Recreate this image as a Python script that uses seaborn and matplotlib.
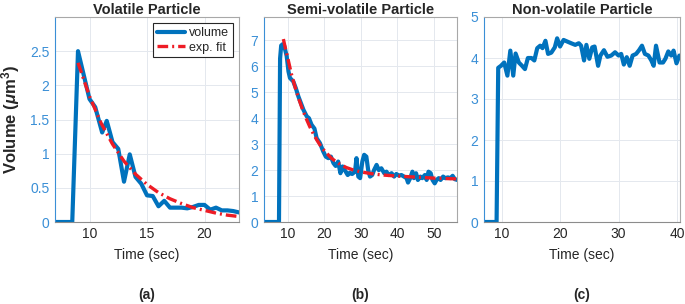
import matplotlib
matplotlib.use("Agg")
import pandas as pd
import matplotlib.pyplot as plt
import seaborn as sns

# Panel (a): volatile particle
vol_a_time = [7.0, 8.5, 9.0, 10.0, 10.5, 11.1, 11.5, 12.0, 12.5, 13.0, 13.5, 14.0, 14.5,
              15.0, 15.5, 16.0, 16.5, 17.0, 17.5, 18.0, 18.5, 19.0, 19.5, 20.0, 20.5,
              21.0, 21.5, 22.0, 22.5, 23.0]
vol_a = [0, 0, 2.5, 1.8, 1.68, 1.31, 1.48, 1.17, 1.07, 0.59, 0.99, 0.66, 0.56,
         0.39, 0.38, 0.23, 0.31, 0.21, 0.21, 0.21, 0.2, 0.22, 0.25, 0.25, 0.18,
         0.21, 0.17, 0.17, 0.16, 0.14]
fit_a_time = [9, 10, 11, 12, 13, 14, 15, 16, 17, 18, 19, 20, 21, 22, 23]
fit_a = [2.33, 1.84, 1.45, 1.14, 0.89, 0.70, 0.55, 0.43, 0.34, 0.27, 0.21, 0.17, 0.13, 0.10, 0.08]

# Panel (b): semi-volatile particle
vol_b_time = [3.5, 7.6, 7.9, 8.2, 8.6, 9.0, 9.7, 10.2, 10.6, 11.5, 12.2, 12.9, 13.6, 14.3,
              15.2, 15.8, 16.5, 17.3, 17.9, 18.8, 19.7, 20.4, 21.1, 21.8, 22.5, 23.1,
              23.8, 24.4, 25.0, 25.6, 26.4, 27.0, 27.6, 28.4, 28.8, 29.3, 29.8, 30.4,
              30.9, 31.5, 32.0, 32.5, 33.1, 33.6, 34.3, 34.9, 35.6, 36.4, 37.0, 37.6,
              38.4, 39.1, 39.7, 40.4, 41.1, 41.8, 42.5, 42.9, 43.5, 44.1, 44.5, 45.1,
              45.6, 46.3, 46.8, 47.5, 48.0, 48.5, 49.1, 49.6, 50.2, 50.7, 51.3, 51.8,
              52.5, 53.1, 53.8, 54.5, 55.1, 55.7, 56.4]
vol_b = [0, 0, 6.3, 6.8, 6.85, 6.8, 6.4, 5.8, 5.55, 5.42, 5.16, 4.84, 4.58, 4.32,
         4.07, 4.0, 3.75, 3.6, 3.23, 3.04, 2.72, 2.52, 2.46, 2.52, 2.27, 2.16,
         2.33, 1.88, 2.14, 2.0, 1.81, 1.9, 1.85, 1.94, 2.46, 1.75, 1.69, 2.33,
         2.59, 2.52, 2.0, 1.75, 1.81, 2.0, 2.2, 2.0, 2.07, 1.88, 1.94, 1.81,
         1.88, 1.75, 1.85, 1.79, 1.81, 1.75, 1.69, 1.52, 1.69, 1.94, 1.69, 1.88,
         1.62, 1.75, 1.69, 1.81, 1.62, 1.94, 1.88, 1.62, 1.49, 1.62, 1.69, 1.62,
         1.75, 1.69, 1.72, 1.69, 1.78, 1.65, 1.62]
fit_b_time = [8.8, 9.5, 10, 11, 12, 13, 14, 15, 16, 17, 18, 19, 20, 22, 24, 26, 28,
              30, 33, 36, 40, 45, 50, 56.3]
fit_b = [7.05, 6.6, 6.32, 5.7, 5.2, 4.75, 4.35, 4.0, 3.68, 3.4, 3.15, 2.93, 2.75,
         2.45, 2.25, 2.1, 2.0, 1.93, 1.86, 1.81, 1.77, 1.73, 1.69, 1.66]

# Panel (c): non-volatile particle
vol_c_time = [7.0, 9.15, 9.43, 9.9, 10.45, 11.0, 11.5, 12.0, 12.4, 12.95, 13.5, 14.0, 14.5,
              15.1, 15.6, 16.1, 16.6, 17.0, 17.5, 17.95, 18.5, 19.1, 19.5, 20.0, 20.6,
              21.25, 21.9, 22.6, 23.2, 23.6, 24.1, 24.5, 25.0, 25.5, 25.9, 26.5, 26.9,
              27.5, 28.1, 28.75, 29.4, 30.0, 30.45, 30.9, 31.4, 31.9, 32.4, 33.0, 33.5,
              34.0, 34.5, 35.1, 35.6, 36.0, 36.4, 37.0, 37.6, 38.0, 38.5, 39.0, 39.4,
              39.9, 40.4]
vol_c = [0, 0, 3.76, 3.81, 3.89, 3.57, 4.18, 3.57, 4.11, 3.89, 3.81, 3.73, 4.0,
         4.0, 3.94, 4.24, 4.3, 4.24, 4.42, 4.1, 4.13, 4.26, 4.48, 4.28, 4.44,
         4.4, 4.36, 4.32, 4.36, 4.3, 3.94, 4.32, 3.98, 4.26, 4.28, 3.81, 4.06,
         4.19, 4.03, 4.06, 4.14, 4.06, 4.1, 3.84, 4.02, 3.81, 4.06, 4.1, 4.19,
         4.3, 4.1, 4.06, 3.94, 3.81, 4.3, 3.89, 3.89, 3.98, 4.16, 4.06, 4.18,
         3.87, 4.06]

titles = ["Volatile Particle", "Semi-volatile Particle", "Non-volatile Particle"]
panel_tags = ["(a)", "(b)", "(c)"]
xlims = [(7, 23), (3.5, 56.3), (7, 40.5)]
ylims = [(0, 3), (0, 7.9), (0, 5)]
xticks = [[10, 15, 20], [10, 20, 30, 40, 50], [10, 20, 30, 40]]
yticks = [[0, 0.5, 1, 1.5, 2, 2.5], list(range(8)), list(range(6))]
yticklabels = [["0", "0.5", "1", "1.5", "2", "2.5"], [str(i) for i in range(8)],
               [str(i) for i in range(6)]]

sns.set_style("whitegrid")
plt.rcParams["font.family"] = ["Liberation Sans", "DejaVu Sans"]
plt.rcParams["mathtext.fontset"] = "custom"
plt.rcParams["mathtext.rm"] = "Liberation Sans:bold"
plt.rcParams["mathtext.bf"] = "Liberation Sans:bold"
plt.rcParams["mathtext.it"] = "Liberation Sans:italic:bold"

BLUE = "#0072BD"
RED = "#ee1c25"
AXBLUE = "#3a8fd6"

fig = plt.figure(figsize=(6.85, 3.04), dpi=100)
W, H = 685, 304
boxes = [(55, 239), (264, 457), (484, 680)]
top, bottom = 17, 222

vols = [(vol_a_time, vol_a), (vol_b_time, vol_b), (vol_c_time, vol_c)]
fits = [(fit_a_time, fit_a), (fit_b_time, fit_b), None]

for i, (l, r) in enumerate(boxes):
    ax = fig.add_axes([l / W, 1 - bottom / H, (r - l) / W, (bottom - top) / H])
    df = pd.DataFrame({"t": vols[i][0], "v": vols[i][1]})
    sns.lineplot(data=df, x="t", y="v", ax=ax, color=BLUE, lw=3,
                 label="volume" if i == 0 else None, sort=False)
    if fits[i] is not None:
        dff = pd.DataFrame({"t": fits[i][0], "v": fits[i][1]})
        sns.lineplot(data=dff, x="t", y="v", ax=ax, color=RED, lw=2.4,
                     dashes=False, label="exp. fit" if i == 0 else None, sort=False)
        ax.lines[-1].set_linestyle((0, (3.2, 1.2, 0.6, 1.2)))
    ax.set_xlim(*xlims[i])
    ax.set_ylim(*ylims[i])
    ax.set_xticks(xticks[i])
    ax.set_yticks(yticks[i])
    ax.set_yticklabels(yticklabels[i])
    ax.grid(True, color="#e4e8ee", lw=0.7)
    ax.tick_params(axis="x", labelsize=10, colors="#262626", length=3, direction="in")
    ax.tick_params(axis="y", labelsize=10, colors=AXBLUE, length=3, direction="in",
                   pad=4)
    for s in ["top", "right"]:
        ax.spines[s].set_color("#a8a8a8")
        ax.spines[s].set_linewidth(0.8)
    ax.spines["bottom"].set_color("#8c8c8c")
    ax.spines["bottom"].set_linewidth(0.8)
    ax.spines["left"].set_color(AXBLUE)
    ax.spines["left"].set_linewidth(0.8)
    ax.set_title(titles[i], fontsize=10.5, fontweight="bold", pad=2)
    ax.set_xlabel("Time (sec)", fontsize=10, labelpad=5)
    ax.set_ylabel("")
    ax.text(0.5, -0.356, panel_tags[i], transform=ax.transAxes, ha="center",
            va="center", fontsize=10, fontweight="bold")
    if i == 0:
        ax.set_ylabel("Volume ($\\mathit{\\mu}$m$^\\mathbf{3}$)", fontsize=12,
                      fontweight="bold", labelpad=6)
        leg = ax.legend(loc="upper right", fontsize=9, frameon=True, fancybox=False,
                        edgecolor="#262626", handlelength=2.3, borderpad=0.3,
                        labelspacing=0.2, handletextpad=0.3, borderaxespad=0.5)
        leg.get_frame().set_linewidth(0.8)
        leg.get_frame().set_alpha(1)

fig.savefig("out.png", dpi=100)
